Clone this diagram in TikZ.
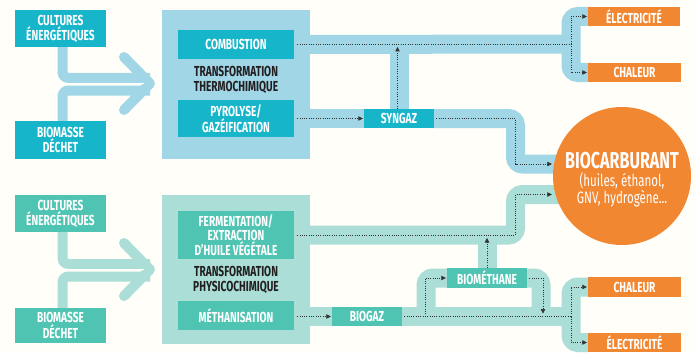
\documentclass[tikz,border=0pt]{standalone}
\usepackage{fontspec}
\setmainfont{Fira Sans}[FakeStretch=0.7]
\usetikzlibrary{arrows.meta}
\definecolor{pagebg}{HTML}{FFFEF8}
\definecolor{tealA}{HTML}{17B5C9}
\definecolor{lblue}{HTML}{A0D6E6}
\definecolor{tealB}{HTML}{50C4B2}
\definecolor{lgreen}{HTML}{AADED6}
\definecolor{orangeC}{HTML}{F28732}
\definecolor{dotcol}{HTML}{333333}
\definecolor{darktext}{HTML}{231F20}
\pgfdeclarelayer{bg}
\pgfdeclarelayer{bands}
\pgfsetlayers{bg,bands,main}
\begin{document}
\begin{tikzpicture}[x=1pt,y=-1pt,
  lbl/.style={font=\fontsize{14.5}{14}\selectfont\bfseries, text=white, align=center, inner sep=0pt},
  sz/.style n args={2}{minimum width=#1pt, minimum height=#2pt},
  boxA/.style={lbl, fill=tealA},
  boxB/.style={lbl, fill=tealB},
  boxC/.style={lbl, fill=orangeC},
  darklbl/.style={font=\fontsize{14.5}{15}\selectfont\bfseries, text=darktext, align=center, inner sep=0pt},
  bigbox/.style={inner sep=0pt, minimum width=148pt, minimum height=149pt},
  bandA/.style={draw=lblue, line width=19pt, rounded corners=7pt},
  bandB/.style={draw=lgreen, line width=19pt, rounded corners=7pt},
  bigarrA/.style={draw=lblue, line width=10pt, rounded corners=6pt},
  bigarrB/.style={draw=lgreen, line width=10pt, rounded corners=6pt},
  chev/.style={line width=10pt, line cap=round, line join=round},
  dots/.style={draw=dotcol, line width=0.7pt, dash pattern=on 1pt off 1.3pt},
  arr/.style={dots, -{Triangle[length=4.5pt,width=4.5pt]}},
]
\begin{pgfonlayer}{bg}
\fill[pagebg] (0,0) rectangle (696,353);
\node[bigbox, fill=lblue] (thermo) at (236,84.5) {};
\node[bigbox, fill=lgreen] (physico) at (236,269.5) {};
\end{pgfonlayer}
\useasboundingbox (0,0) rectangle (696,353);

% ---- top section nodes
\node[boxA, sz={91}{37}] (cult1) at (60.5,28.5) {CULTURES\\ÉNERGÉTIQUES};
\node[boxA, sz={91}{38}] (bio1) at (60.5,140) {BIOMASSE\\DÉCHET};
\node[boxA, sz={116}{29}] (comb) at (236,44.5) {COMBUSTION};
\node[darklbl] (thermolbl) at (236,79.5) {TRANSFORMATION\\THERMOCHIMIQUE};
\node[boxA, sz={116}{37}] (pyro) at (236,118.5) {PYROLYSE/\\GAZÉIFICATION};
\node[boxA, sz={70}{19}] (syngaz) at (399,118.5) {SYNGAZ};
\node[boxC, sz={92}{19}] (elec1) at (634,16.5) {ÉLECTRICITÉ};
\node[boxC, sz={93}{19}] (chal1) at (634.5,72.5) {CHALEUR};
\node[circle, fill=orangeC, minimum size=138pt, inner sep=0pt] (bc) at (622,176) {};
\node[text=white, align=center, inner sep=0pt] (bctext) at ([yshift=-3.5pt]bc.center)
  {{\fontsize{23}{23}\selectfont\bfseries BIOCARBURANT}\\[2pt]
   {\fontsize{16.5}{16}\selectfont (huiles, éthanol,}\\[0pt]
   {\fontsize{16.5}{16}\selectfont GNV, hydrogène...}};

% ---- bottom section nodes
\node[boxB, sz={91}{37}] (cult2) at (60.5,213.5) {CULTURES\\ÉNERGÉTIQUES};
\node[boxB, sz={91}{35}] (bio2) at (60.5,325.5) {BIOMASSE\\DÉCHET};
\node[boxB, sz={116}{48}] (ferm) at (236,235) {FERMENTATION/\\EXTRACTION\\D’HUILE VÉGÉTALE};
\node[darklbl] (physlbl) at (236,279.5) {TRANSFORMATION\\PHYSICOCHIMIQUE};
\node[boxB, sz={116}{29}] (meth) at (236,315.5) {MÉTHANISATION};
\node[boxB, sz={70}{19}] (biogaz) at (367,316.5) {BIOGAZ};
\node[boxB, sz={80}{20}] (biometh) at (487,278) {BIOMÉTHANE};
\node[boxC, sz={93}{20}] (chal2) at (634.5,287) {CHALEUR};
\node[boxC, sz={93}{19}] (elec2) at (634.5,342.5) {ÉLECTRICITÉ};

% ---- junction coordinates
\coordinate (j1) at (571,44);
\coordinate (k1) at (515.5,164);
\coordinate (j2) at (571,316.5);
\coordinate (k2) at (515.5,194.5);
\coordinate (m1) at (426,316.5);
\coordinate (m2) at (541,316.5);
\coordinate (tip1) at (150,83.5);
\coordinate (tip2) at (150,269.5);

% ---- bands
\begin{pgfonlayer}{bands}
\draw[bandA] (comb.east) -- (j1);
\draw[bandA] (elec1.west) -| (j1) |- (chal1.west);
\draw[bandA] (syngaz.north) -- (syngaz.north |- j1);
\draw[bandA] (pyro.east) -- (syngaz.west);
\draw[bandA] (syngaz.east) -| (k1) -- (k1 -| bc.center);

\draw[bandB] (biogaz.west -| meth.east) -- (biogaz.west);
\draw[bandB] (biogaz.east) -- (j2);
\draw[bandB] (chal2.west) -| (j2) |- (elec2.west);
\draw[bandB] (ferm.east) -| (k2) -- (k2 -| bc.center);
\draw[bandB] (biometh.north) -- (biometh.north |- ferm.east);
\draw[bandB] (m1) |- (biometh.west);
\draw[bandB] (biometh.east) -| (m2);

% big input arrows
\draw[bigarrA] ([xshift=2pt]cult1.south) |- ([yshift=5.5pt]tip1);
\draw[bigarrA] ([xshift=2pt]bio1.north) |- ([yshift=-7pt]tip1);
\draw[chev, draw=lblue] (124,57) -- (tip1) -- (124,110);
\draw[bigarrB] ([xshift=2pt]cult2.south) |- ([yshift=5.5pt]tip2);
\draw[bigarrB] ([xshift=2pt]bio2.north) |- ([yshift=-7pt]tip2);
\draw[chev, draw=lgreen] (124,243) -- (tip2) -- (124,296);
\end{pgfonlayer}
% white hairline between the two halves of each input arrow
\draw[pagebg, line width=1.5pt] ([xshift=-3pt]cult1.south |- tip1) -- ([xshift=-6pt]tip1);
\draw[pagebg, line width=1.5pt] ([xshift=-3pt]cult2.south |- tip2) -- ([xshift=-6pt]tip2);

% ---- dotted flows, top
\draw[dots] ([xshift=3pt]comb.east |- j1) -- (j1);
\draw[arr] (j1) |- ([xshift=-1pt]elec1.west);
\draw[arr] (j1) |- ([xshift=-1pt]chal1.west);
\draw[arr, shorten >=3pt] ([xshift=-1.5pt]syngaz.north) -- ([xshift=-1.5pt]syngaz.north |- j1);
\draw[arr] ([xshift=3pt]pyro.east) -- ([xshift=-1pt]syngaz.west);
\draw[arr, shorten >=1pt] ([xshift=2pt]syngaz.east) -| (k1) -- (k1 -| bc.west);

% ---- dotted flows, bottom
\draw[arr, shorten >=1pt] ([xshift=3pt]ferm.east) -| (k2) -- (k2 -| bc.west);
\draw[arr, shorten >=3pt] (biometh.north) -- (biometh.north |- ferm.east);
\draw[arr] ([xshift=3pt]biogaz.west -| meth.east) -- ([xshift=-1pt]biogaz.west);
\draw[dots] ([xshift=2pt]biogaz.east) -- (j2);
\draw[arr] (j2) |- ([xshift=-1pt]chal2.west);
\draw[arr] (j2) |- ([xshift=-1pt]elec2.west);
\draw[arr] ([xshift=-1pt]m1) |- ([xshift=-1pt]biometh.west);
\draw[arr, shorten >=3pt] ([xshift=2pt]biometh.east) -| ([xshift=2pt]m2);
\end{tikzpicture}
\end{document}
